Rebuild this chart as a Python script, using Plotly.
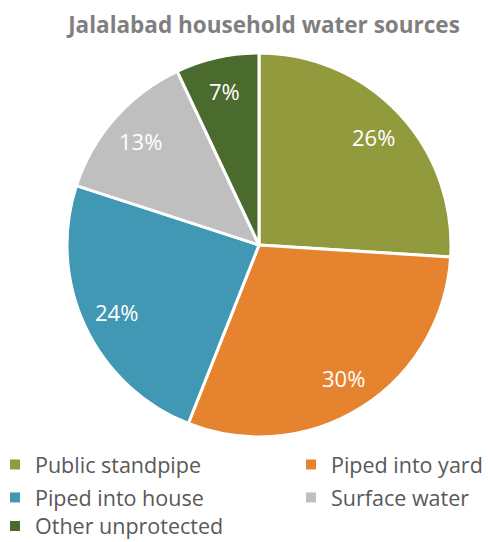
import math
import plotly.graph_objects as go

labels = ["Public standpipe", "Piped into yard", "Piped into house", "Surface water", "Other unprotected"]
values = [26, 30, 24, 13, 7]
colors = ["#929A3E", "#E5832F", "#4198B5", "#BFBFBF", "#4A6A2E"]
legend_column = ["legend", "legend2", "legend", "legend2", "legend3"]

W, H = 488, 542
CX, CY, R = 259, 245, 192
FONT = "Open Sans"

fig = go.Figure(go.Pie(
    labels=labels, values=values, sort=False, direction="clockwise", rotation=0,
    marker=dict(colors=colors, line=dict(color="white", width=3)),
    textinfo="none", showlegend=False,
    domain=dict(x=[(CX - R)/W, (CX + R)/W], y=[1-(CY + R)/H, 1-(CY - R)/H]),
    hoverinfo="label+percent",
))

total = sum(values)
cum = 0
for v in values:
    frac = (cum + v/2) / total
    ang = math.radians(90 - 360*frac)
    cum += v
    fig.add_annotation(
        x=(CX + 0.82*R*math.cos(ang))/W, y=1-(CY - 0.82*R*math.sin(ang))/H,
        xref="paper", yref="paper", xanchor="center", yanchor="middle",
        text=f"{v}%", showarrow=False,
        font=dict(family=FONT, size=22, color="white"),
    )

# legend entries (two columns, matching the original layout)
for lab, col, lg in zip(labels, colors, legend_column):
    fig.add_trace(go.Scatter(
        x=[None], y=[None], mode="markers", name=lab, legend=lg, legendgroup=lab,
        marker=dict(symbol="square", size=10, color=col), hoverinfo="skip",
    ))

legend_common = dict(orientation="v", xanchor="left",
                     font=dict(family=FONT, size=21.5, color="#595959"),
                     tracegroupgap=2, bgcolor="rgba(0,0,0,0)", itemclick=False)
fig.update_layout(
    width=W, height=H, margin=dict(l=0, r=0, t=0, b=0, autoexpand=False),
    paper_bgcolor="white", plot_bgcolor="white",
    xaxis=dict(visible=False), yaxis=dict(visible=False),
    title=dict(text="<b>Jalalabad household water sources</b>", x=264/W, xanchor="center",
               y=1-25/H, yanchor="middle", font=dict(family=FONT, size=22.5, color="#7F7F7F")),
    legend=dict(x=-5/W, y=1-444/H, yanchor="top", **legend_common),
    legend2=dict(x=291/W, y=1-444/H, yanchor="top", **legend_common),
    legend3=dict(x=-5/W, y=1-526/H, yanchor="middle", **legend_common),
    showlegend=True,
)
fig.write_html("out.html", config={"displayModeBar": False},
               post_script="document.body.style.margin='0';")
